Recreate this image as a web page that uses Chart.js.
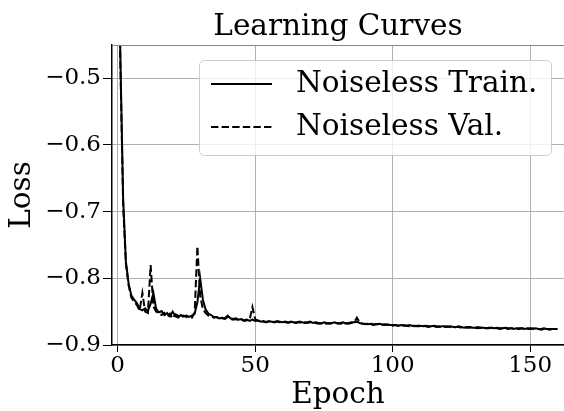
<!DOCTYPE html>
<html>
<head>
<meta charset="UTF-8">
<title>Learning Curves</title>
<script src="https://cdn.jsdelivr.net/npm/chart.js@4.4.1/dist/chart.umd.min.js"></script>
<style>
  html, body { margin: 0; padding: 0; background: #fff; }
  #wrap { width: 564px; height: 411px; }
</style>
</head>
<body>
<div id="wrap"><canvas id="chart" width="564" height="411"></canvas></div>
<script>
// epochs 0..160
var epochs = Array.from({ length: 161 }, function (_, i) { return i; });

var trainLoss = [
  -0.20, -0.47, -0.68, -0.775, -0.808, -0.826, -0.832, -0.837, -0.846, -0.848,
  -0.845, -0.849, -0.838, -0.822, -0.846, -0.851, -0.849, -0.855, -0.852, -0.857,
  -0.850, -0.857, -0.859, -0.855, -0.857, -0.856, -0.858, -0.856, -0.853, -0.836,
  -0.800, -0.832, -0.847, -0.853, -0.855, -0.858, -0.858, -0.860, -0.859, -0.860,
  -0.856, -0.860, -0.861, -0.860, -0.862, -0.861, -0.863, -0.862, -0.864, -0.862,
  -0.864, -0.863, -0.865, -0.864, -0.866, -0.864, -0.865, -0.866, -0.864, -0.865,
  -0.866, -0.865, -0.867, -0.865, -0.866, -0.867, -0.865, -0.866, -0.867, -0.866,
  -0.865, -0.867, -0.866, -0.867, -0.868, -0.866, -0.867, -0.868, -0.867, -0.866,
  -0.868, -0.867, -0.866, -0.868, -0.867, -0.866, -0.866, -0.865, -0.867, -0.868,
  -0.868, -0.869, -0.868, -0.869, -0.869, -0.868, -0.869, -0.870, -0.869, -0.870,
  -0.870, -0.870, -0.871, -0.870, -0.871, -0.871, -0.870, -0.871, -0.872, -0.871,
  -0.871, -0.872, -0.871, -0.872, -0.872, -0.871, -0.872, -0.873, -0.872, -0.872,
  -0.873, -0.872, -0.873, -0.873, -0.872, -0.873, -0.874, -0.873, -0.873, -0.874,
  -0.874, -0.873, -0.874, -0.874, -0.875, -0.874, -0.874, -0.875, -0.874, -0.875,
  -0.875, -0.874, -0.875, -0.875, -0.876, -0.875, -0.875, -0.875, -0.876, -0.875,
  -0.875, -0.876, -0.875, -0.876, -0.876, -0.875, -0.876, -0.876, -0.876, -0.876,
  -0.876
];

var valLoss = [
  -0.22, -0.48, -0.69, -0.778, -0.811, -0.829, -0.835, -0.840, -0.848, -0.822,
  -0.850, -0.852, -0.780, -0.842, -0.850, -0.853, -0.855, -0.852, -0.858, -0.853,
  -0.860, -0.854, -0.856, -0.859, -0.856, -0.858, -0.857, -0.859, -0.852, -0.752,
  -0.826, -0.846, -0.852, -0.856, -0.857, -0.859, -0.858, -0.861, -0.860, -0.861,
  -0.858, -0.861, -0.862, -0.861, -0.863, -0.862, -0.864, -0.863, -0.862, -0.843,
  -0.861, -0.864, -0.864, -0.865, -0.865, -0.865, -0.866, -0.865, -0.865, -0.866,
  -0.865, -0.866, -0.866, -0.866, -0.867, -0.866, -0.866, -0.867, -0.866, -0.867,
  -0.866, -0.866, -0.867, -0.868, -0.867, -0.867, -0.868, -0.867, -0.868, -0.867,
  -0.867, -0.868, -0.867, -0.867, -0.868, -0.867, -0.866, -0.859, -0.866, -0.868,
  -0.869, -0.868, -0.869, -0.870, -0.869, -0.869, -0.870, -0.869, -0.870, -0.870,
  -0.871, -0.870, -0.871, -0.871, -0.870, -0.871, -0.872, -0.871, -0.871, -0.872,
  -0.872, -0.871, -0.872, -0.873, -0.872, -0.872, -0.873, -0.872, -0.873, -0.873,
  -0.872, -0.873, -0.874, -0.873, -0.873, -0.874, -0.873, -0.874, -0.874, -0.873,
  -0.874, -0.875, -0.874, -0.874, -0.875, -0.875, -0.874, -0.875, -0.875, -0.876,
  -0.875, -0.875, -0.876, -0.875, -0.875, -0.876, -0.876, -0.875, -0.876, -0.876,
  -0.876, -0.875, -0.876, -0.876, -0.877, -0.876, -0.876, -0.877, -0.876, -0.876,
  -0.877
];

var xTicks = [0, 50, 100, 150];
var yTicks = [-0.9, -0.8, -0.7, -0.6, -0.5];
var seriesNames = ['Noiseless Train.', 'Noiseless Val.'];

var serif = "'DejaVu Serif', serif";
Chart.defaults.font.family = serif;
Chart.defaults.color = '#000';

// title, top spine and the boxed legend inside the plot
var extras = {
    id: 'extras',
    afterDraw: function (chart) {
        var ctx = chart.ctx, a = chart.chartArea;
        ctx.save();
        ctx.strokeStyle = '#888';
        ctx.lineWidth = 1;
        ctx.beginPath();
        ctx.moveTo(a.left, a.top + 0.5);
        ctx.lineTo(a.right, a.top + 0.5);
        ctx.stroke();

        ctx.fillStyle = '#000';
        ctx.font = '29.5px ' + serif;
        ctx.textAlign = 'center';
        ctx.textBaseline = 'middle';
        ctx.fillText('Learning Curves', (a.left + a.right) / 2, 27);

        // legend box
        ctx.beginPath();
        ctx.roundRect(199.5, 60.5, 352, 95, 5);
        ctx.fillStyle = 'rgba(255,255,255,0.8)';
        ctx.fill();
        ctx.strokeStyle = '#cccccc';
        ctx.stroke();

        chart.data.datasets.forEach(function (ds, i) {
            var y = 84 + i * 43;
            ctx.setLineDash(ds.borderDash || []);
            ctx.strokeStyle = ds.borderColor;
            ctx.lineWidth = ds.borderWidth;
            ctx.beginPath();
            ctx.moveTo(211, y);
            ctx.lineTo(272, y);
            ctx.stroke();
            ctx.setLineDash([]);
            ctx.fillStyle = '#000';
            ctx.textAlign = 'left';
            ctx.fillText(ds.label, 296, y);
        });
        ctx.restore();
    }
};

var config = {
    type: 'line',
    data: {
        labels: epochs,
        datasets: [{
            label: seriesNames[0],
            data: trainLoss,
            borderColor: '#000',
            borderWidth: 2,
            pointRadius: 0,
            tension: 0,
            fill: false
        }, {
            label: seriesNames[1],
            data: valLoss,
            borderColor: '#000',
            borderWidth: 2,
            borderDash: [7.4, 3.2],
            pointRadius: 0,
            tension: 0,
            fill: false
        }]
    },
    options: {
        responsive: false,
        animation: false,
        devicePixelRatio: 1,
        layout: { padding: { top: 45, right: 0, left: 0, bottom: 0 } },
        plugins: {
            legend: { display: false },
            tooltip: { enabled: false },
            title: { display: false }
        },
        scales: {
            x: {
                type: 'linear',
                min: -2.05,
                max: 162.3,
                afterBuildTicks: function (axis) {
                    axis.ticks = xTicks.map(function (v) { return { value: v }; });
                },
                afterFit: function (s) { s.height = 66; },
                ticks: {
                    font: { size: 23 },
                    padding: 0,
                    maxRotation: 0,
                    callback: function (v) { return String(v); }
                },
                grid: {
                    color: '#b0b0b0',
                    lineWidth: 1,
                    tickColor: '#000',
                    tickLength: 7,
                    drawTicks: true
                },
                border: { display: true, color: '#000', width: 1.5 },
                title: {
                    display: true,
                    text: 'Epoch',
                    font: { size: 29.5, lineHeight: 1 },
                    padding: { top: 0, bottom: 1 }
                }
            },
            y: {
                type: 'linear',
                min: -0.9,
                max: -0.45,
                afterBuildTicks: function (axis) {
                    axis.ticks = yTicks.map(function (v) { return { value: v }; });
                },
                afterFit: function (s) { s.width = 112; },
                ticks: {
                    font: { size: 23 },
                    padding: 2,
                    callback: function (v) {
                        return (v < 0 ? '\u2212' : '') + Math.abs(v).toFixed(1);
                    }
                },
                grid: {
                    color: '#b0b0b0',
                    lineWidth: 1,
                    tickColor: '#000',
                    tickLength: 9,
                    drawTicks: true
                },
                border: { display: true, color: '#000', width: 1.5 },
                title: {
                    display: true,
                    text: 'Loss',
                    font: { size: 29.5, lineHeight: 1 },
                    padding: { top: 8, bottom: 0 }
                }
            }
        }
    },
    plugins: [extras]
};

var ctx = document.getElementById('chart').getContext('2d');
window.myLine = new Chart(ctx, config);
</script>
</body>
</html>
